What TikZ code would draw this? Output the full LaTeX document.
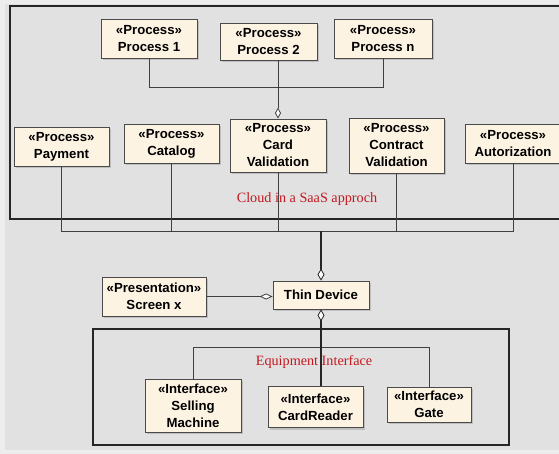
\documentclass[tikz,border=0pt]{standalone}
\usepackage{fontspec}
\setmainfont{Liberation Serif}
\newfontfamily\arialfont{Liberation Sans}
\usetikzlibrary{arrows.meta,shadows}
\definecolor{boxfill}{HTML}{FDF3E3}
\definecolor{boxline}{HTML}{4A4A4A}
\definecolor{bggray}{HTML}{E1E1E1}
\definecolor{labelred}{HTML}{C41820}
\begin{document}
\begin{tikzpicture}[x=1pt, y=-1pt,
  comp/.style={draw=boxline, fill=boxfill, line width=0.8pt, inner sep=1pt,
    align=center, font=\arialfont\bfseries\fontsize{13.2}{17}\selectfont,
    drop shadow={shadow xshift=2pt, shadow yshift=-2pt, opacity=0.35}},
  conn/.style={draw=black!75, line width=0.8pt},
  heavy/.style={draw=black!85, line width=2pt},
  agg/.tip={Diamond[open, fill=white, length=12pt, width=7pt, line width=0.8pt]},
  frame/.style={draw=black!85, line width=1.6pt},
  note/.style={text=labelred, font=\fontsize{14.2}{16}\selectfont}]
\useasboundingbox (0,0) rectangle (559,454);
\fill[black!7] (0,0) rectangle (559,454);
\fill[bggray] (5,4) rectangle (559,450);
\draw[frame] (10,6) rectangle (575,219);
\draw[frame] (93,329) rectangle (509,445);

\node[comp, minimum width=96pt, minimum height=39pt] (p1) at (149,38.5) {«Process»\\Process 1};
\node[comp, minimum width=97pt, minimum height=37pt] (p2) at (268.5,41.5) {«Process»\\Process 2};
\node[comp, minimum width=98pt, minimum height=39pt] (pn) at (383,38.5) {«Process»\\Process n};
\node[comp, minimum width=95pt, minimum height=39pt] (pay) at (61.5,146.5) {«Process»\\Payment};
\node[comp, minimum width=95pt, minimum height=39pt] (cat) at (171.5,143.5) {«Process»\\Catalog};
\node[comp, minimum width=96pt, minimum height=53pt] (cv) at (278,145.5) {«Process»\\Card\\Validation};
\node[comp, minimum width=95pt, minimum height=55pt] (ccv) at (396.5,145.5) {«Process»\\Contract\\Validation};
\node[comp, minimum width=96pt, minimum height=39pt] (aut) at (513,143.5) {«Process»\\Autorization};
\node[note] (cloud) at (307,199) {Cloud in a SaaS approch};

\node[comp, minimum width=96pt, minimum height=28pt] (td) at (321,295) {Thin Device};
\node[comp, minimum width=104pt, minimum height=39pt] (scr) at (154,296.5) {«Presentation»\\Screen x};

\node[comp, minimum width=96pt, minimum height=53pt] (sell) at (193,405.5) {«Interface»\\Selling\\Machine};
\node[comp, minimum width=95pt, minimum height=41pt] (crd) at (315.5,407) {«Interface»\\CardReader};
\node[comp, minimum width=84pt, minimum height=35pt] (gate) at (429,404.5) {«Interface»\\Gate};
\node[note] (equip) at (314,362.5) {Equipment Interface};

\coordinate (busA) at (0,87);
\coordinate (busB) at (0,231);
\coordinate (busC) at (0,347);

\draw[conn] (p1.south) -- (p1.south |- busA) -- (pn.south |- busA) -- (pn.south);
\draw[conn, -{Diamond[open, fill=white, length=11pt, width=6pt, line width=0.8pt]}] (p2.south -| cv.north) -- (cv.north);

\draw[conn] (pay.south) -- (pay.south |- busB) -- (aut.south |- busB) -- (aut.south);
\draw[conn] (cat.south) -- (cat.south |- busB);
\draw[conn] (cv.south) -- (cv.south |- busB);
\draw[conn] (ccv.south) -- (ccv.south |- busB);
\draw[heavy, -agg] (td.north |- busB) -- (td.north);

\draw[conn, -{Diamond[open, fill=white, length=13pt, width=6pt, line width=0.8pt]}] (scr.east) -- (scr.east -| td.west);

\draw[heavy, agg-] (td.south) -- (td.south |- busC);
\draw[conn] (sell.north) -- (sell.north |- busC) -- (gate.north |- busC) -- (gate.north);
\draw[heavy, line width=1.4pt] (td.south |- busC) -- (td.south |- crd.north);
\end{tikzpicture}
\end{document}
